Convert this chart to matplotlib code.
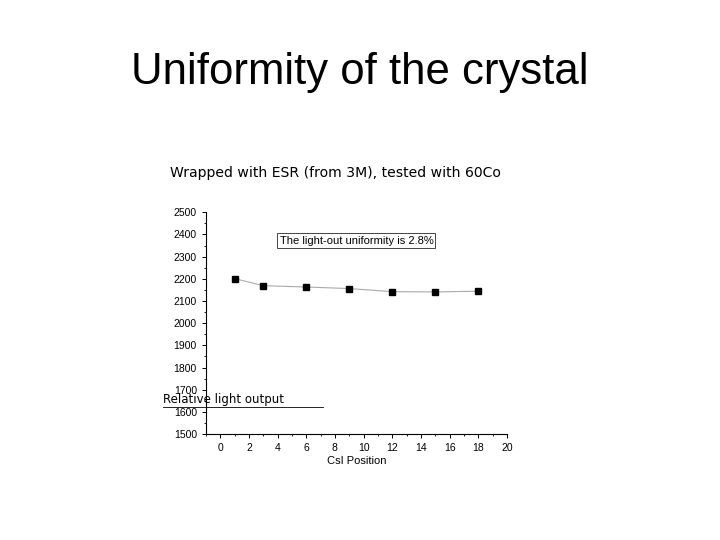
import matplotlib
matplotlib.use("Agg")
import matplotlib.pyplot as plt
from matplotlib.ticker import MultipleLocator

# data
position = [1, 3, 6, 9, 12, 15, 18]
light_output = [2201, 2169, 2163, 2156, 2142, 2141, 2144]

fig = plt.figure(figsize=(7.2, 5.4), dpi=100)
fig.patch.set_facecolor("white")

fig.text(0.5, 0.865, "Uniformity of the crystal", ha="center", va="center",
         fontsize=31.5, family="Liberation Sans")
fig.text(0.236, 0.68, "Wrapped with ESR (from 3M), tested with 60Co", ha="left",
         va="center", fontsize=10.1, family="DejaVu Sans")

ax = fig.add_axes([0.286, 0.196, 0.418, 0.411])
ax.plot(position, light_output, color="#aaaaaa", lw=0.8, zorder=1)
ax.plot(position, light_output, ls="none", marker="s", ms=4, color="black", zorder=2)

ax.set_xlim(-1, 20)
ax.set_ylim(1500, 2500)
ax.xaxis.set_major_locator(MultipleLocator(2))
ax.xaxis.set_minor_locator(MultipleLocator(1))
ax.yaxis.set_major_locator(MultipleLocator(100))
ax.yaxis.set_minor_locator(MultipleLocator(50))
for s in ["top", "right"]:
    ax.spines[s].set_visible(False)
ax.spines["left"].set_linewidth(0.8)
ax.spines["bottom"].set_linewidth(0.8)
ax.tick_params(which="major", direction="out", length=3, width=0.7, labelsize=7.5)
ax.tick_params(which="minor", direction="out", length=1.5, width=0.6)
for lab in ax.get_xticklabels() + ax.get_yticklabels():
    lab.set_family("Liberation Sans")
ax.set_xlabel("CsI Position", fontsize=8, family="Liberation Sans", labelpad=2)

ax.text(0.5, 0.872, "The light-out uniformity is 2.8%", transform=ax.transAxes,
        ha="center", va="center", fontsize=8, family="Liberation Sans",
        bbox=dict(boxstyle="square,pad=0.2", fc="white", ec="#444444", lw=0.7))

# garbled y label as it shows in the slide
ax.text(-0.143, 0.126, "Relative light output", transform=ax.transAxes,
        ha="left", va="bottom", fontsize=8.5, family="DejaVu Sans", clip_on=False)
ax.plot([-0.143, 0.39], [0.123, 0.123], transform=ax.transAxes, color="black",
        lw=0.6, clip_on=False)

fig.savefig("out.png", dpi=100)
